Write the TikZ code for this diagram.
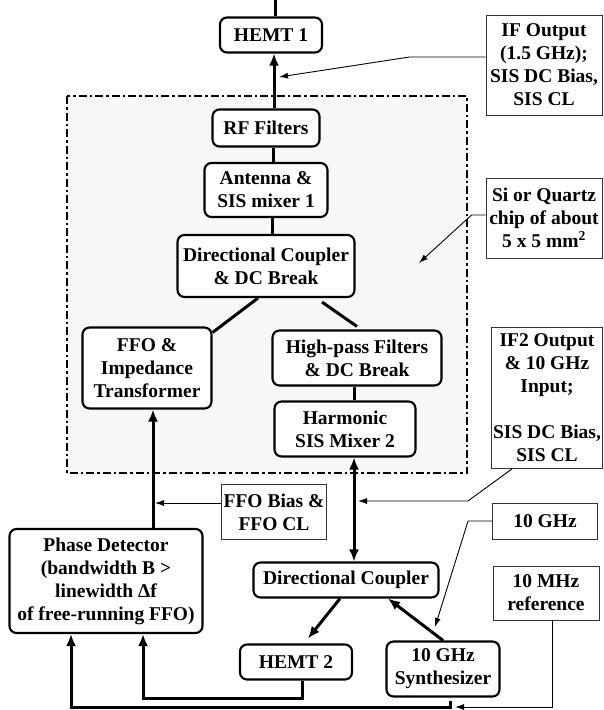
\documentclass[tikz,border=0pt]{standalone}
\usepackage{fontspec}
\setmainfont{Liberation Serif}
\usetikzlibrary{positioning, arrows.meta, calc}
\tikzset{
    block/.style={draw, rounded corners=7pt, line width=2.1pt, fill=white, align=center, inner sep=1pt, font=\bfseries\fontsize{19.5}{23}\selectfont},
    note/.style={draw=black!80, line width=0.9pt, fill=white, align=center, inner sep=1pt, font=\bfseries\fontsize{19.5}{23}\selectfont},
    bus/.style={line width=3pt, >={Latex[length=12pt, width=10pt]}},
    feed/.style={line width=0.9pt, >={Latex[length=9pt, width=6pt]}},
    chiparea/.style={draw, fill=gray!6, line width=2.4pt, dash pattern=on 8pt off 3pt on 2.5pt off 3pt},
}
\begin{document}
\begin{tikzpicture}[x=1pt, y=-1pt]
    \useasboundingbox (0,0) rectangle (604,710);

    \draw[chiparea] (67,96) rectangle (467,473);

    % receiver chain
    \node[block, minimum width=102pt, minimum height=35pt] (hemt1) at (271,35) {HEMT 1};
    \node[block, minimum width=107pt, minimum height=37pt] (rf) at (266,128) {RF Filters};
    \node[block, minimum width=123pt, minimum height=54pt] (ant) at (266,190) {Antenna \&\\SIS mixer 1};
    \node[block, minimum width=177pt, minimum height=62pt] (dc1) at (266,266) {Directional Coupler\\\& DC Break};
    \node[block, minimum width=129pt, minimum height=81pt] (ffo) at (147,368) {FFO \&\\Impedance\\Transformer};
    \node[block, minimum width=169pt, minimum height=55pt] (hpf) at (357,358) {High-pass Filters\\\& DC Break};
    \node[block, minimum width=141pt, minimum height=55pt] (harm) at (345,429) {Harmonic\\SIS Mixer 2};

    % lock loop
    \node[block, minimum width=193pt, minimum height=104pt] (pd) at (106,581) {Phase Detector\\(bandwidth B >\\linewidth Δf\\of free-running FFO)};
    \node[block, minimum width=185pt, minimum height=35pt] (dc2) at (346,580) {Directional Coupler};
    \node[block, minimum width=112pt, minimum height=35pt] (hemt2) at (296,662) {HEMT 2};
    \node[block, minimum width=113pt, minimum height=55pt] (synth) at (443,669) {10 GHz\\Synthesizer};

    % notes
    \node[note, minimum width=116pt, minimum height=100pt] (ifout) at (544,65) {IF Output\\(1.5 GHz);\\SIS DC Bias,\\SIS CL};
    \node[note, minimum width=116pt, minimum height=80pt] (chip) at (544,218) {Si or Quartz\\chip of about\\5 x 5 mm\textsuperscript{2}};
    \node[note, minimum width=111pt, minimum height=141pt] (if2) at (547,398) {IF2 Output\\\& 10 GHz\\Input;\\[23pt]SIS DC Bias,\\SIS CL};
    \node[note, minimum width=105pt, minimum height=55pt] (ffobias) at (274,512) {FFO Bias \&\\FFO CL};
    \node[note, minimum width=105pt, minimum height=36pt] (ghz) at (545,521) {10 GHz};
    \node[note, minimum width=106pt, minimum height=54pt] (mhz) at (546,593) {10 MHz\\reference};

    \coordinate (top) at (275,0);
    \coordinate (ifin) at (279,77);
    \coordinate (chipin) at (419,263);
    \coordinate (if2in) at (358,501);
    \coordinate (ffoin) at (155,503);
    \coordinate (synthin) at (435,627);
    \coordinate (mhzin) at (455,707);
    \coordinate (lockend) at (450,701);

    \draw[bus] ([xshift=4pt]hemt1.north) -- (top);
    \draw[bus, ->] ([xshift=8pt]rf.north) -- ([xshift=3pt]hemt1.south);
    \draw[bus] ([xshift=7pt]rf.south) -- ([xshift=7pt]ant.north);
    \draw[bus] ([xshift=6pt]ant.south) -- ([xshift=6pt]dc1.north);
    \draw[bus] ([xshift=-8pt]dc1.south) -- ([yshift=-6pt]ffo.north east);
    \draw[bus] ([xshift=56pt, yshift=-4pt]dc1.south) -- ([yshift=3pt]hpf.north);
    \draw[bus] ([xshift=-3pt]hpf.south) -- ([xshift=-3pt]hpf.south |- harm.north);
    \draw[bus, <->] ([xshift=9pt]harm.south) -- ([xshift=9pt]harm.south |- dc2.north);
    \draw[bus, ->] ([xshift=6pt]pd.north -| ffo.south) -- ([xshift=6pt]ffo.south);
    \draw[bus, ->] ([xshift=-6pt]dc2.south) -- ([xshift=12pt, yshift=5pt]hemt2.north);
    \draw[bus, ->] (synth.north) -- ([xshift=42pt]dc2.south);
    \draw[bus, ->] ([xshift=6pt]hemt2.south) -- ++(0,18) -| ([xshift=37pt]pd.south);
    \draw[bus, ->] (lockend) -- ++(0,6) -| ([xshift=-35pt]pd.south);

    \draw[feed, ->] ([yshift=8pt]ifout.west) -- ++(-76,0) -- (ifin);
    \draw[feed, ->] ([yshift=3pt]chip.west) -- ++(-14,0) -- (chipin);
    \draw[feed, ->] ([xshift=-35pt]if2.south) -- ++(-44,32) -- (if2in);
    \draw[feed, ->] ([yshift=9pt]ffobias.west) -- (ffoin);
    \draw[feed, ->] (ghz.west) -- ++(-24,0) -- (synthin);
    \draw[feed, ->] ([xshift=6pt]mhz.south) |- (mhzin);
\end{tikzpicture}
\end{document}
